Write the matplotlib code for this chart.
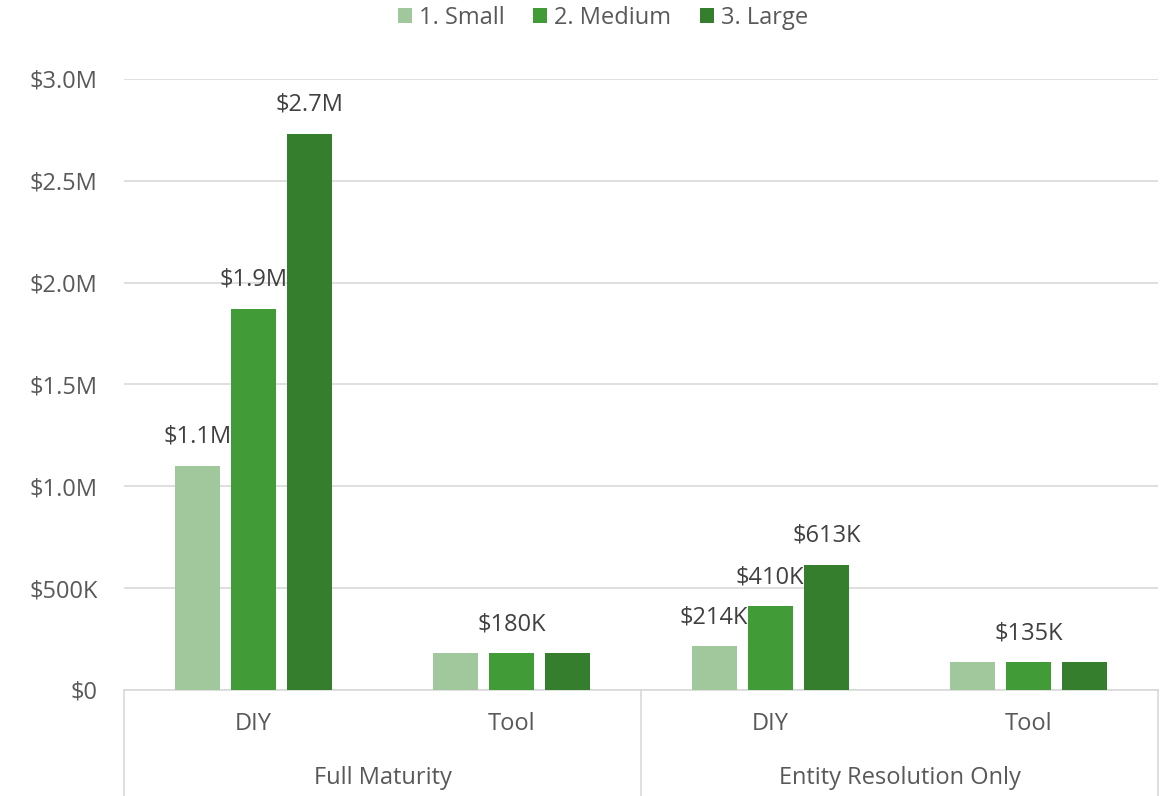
import matplotlib.pyplot as plt
import matplotlib.transforms as mtransforms
import numpy as np

plt.rcParams['font.family'] = ['Open Sans', 'DejaVu Sans']

# data
groups = ['Full Maturity', 'Entity Resolution Only']
approaches = ['DIY', 'Tool', 'DIY', 'Tool']
sizes = ['1. Small', '2. Medium', '3. Large']
small = [1.10e6, 180e3, 214e3, 135e3]
medium = [1.87e6, 180e3, 410e3, 135e3]
large = [2.73e6, 180e3, 613e3, 135e3]
small_labels = ['$1.1M', '', '$214K', '']
medium_labels = ['$1.9M', '$180K', '$410K', '$135K']
large_labels = ['$2.7M', '', '$613K', '']
yticks = [0, 0.5e6, 1.0e6, 1.5e6, 2.0e6, 2.5e6, 3.0e6]
ytick_labels = ['$0', '$500K', '$1.0M', '$1.5M', '$2.0M', '$2.5M', '$3.0M']

colors = ['#A1C79C', '#419C38', '#357E2D']
text_color = '#595959'
grid_color = '#D9D9D9'
fs = 17

fig = plt.figure(figsize=(11.66, 7.96), dpi=100)
ax = fig.add_axes([0.1063, 0.1332, 0.8868, 0.7676])

x = np.arange(len(approaches))
bar_width = 0.174
step = 0.217

series = [(small, small_labels), (medium, medium_labels), (large, large_labels)]
for i, (vals, labs) in enumerate(series):
    pos = x + (i - 1) * step
    ax.bar(pos, vals, bar_width, color=colors[i], label=sizes[i], zorder=3)
    for px, v, lab in zip(pos, vals, labs):
        if lab:
            ax.annotate(lab, (px, v), xytext=(0, 21), textcoords='offset points',
                        ha='center', va='center', fontsize=fs, color='#404040')

ax.set_xlim(-0.5, 3.5)
ax.set_ylim(0, 3.0e6)
ax.set_yticks(yticks)
ax.set_yticklabels(ytick_labels)
ax.tick_params(axis='y', length=0, pad=19, labelsize=fs, labelcolor=text_color)
ax.set_xticks([])
ax.yaxis.grid(True, color=grid_color, linewidth=1.2, zorder=0)
for s in ['top', 'right', 'left']:
    ax.spines[s].set_visible(False)
ax.spines['bottom'].set_color(grid_color)
ax.spines['bottom'].set_linewidth(1.2)

# multi-level category axis
trans = mtransforms.blended_transform_factory(ax.transData, ax.transAxes)
for xi, name in zip(x, approaches):
    ax.text(xi, -0.0556, name, transform=trans, ha='center', va='center',
            fontsize=fs, color=text_color)
for gi, name in enumerate(groups):
    ax.text(gi * 2 + 0.5, -0.144, name, transform=trans, ha='center', va='center',
            fontsize=fs, color=text_color)
for xv in [-0.5, 1.5, 3.5]:
    ax.plot([xv, xv], [0, -0.18], transform=trans, color=grid_color,
            linewidth=1.2, clip_on=False)

fig.legend(loc='center', bbox_to_anchor=(603 / 1166, 1 - 18 / 796), ncol=3,
           frameon=False, fontsize=fs, labelcolor=text_color,
           handlelength=0.6, handleheight=0.6, handletextpad=0.3, columnspacing=1.2)

fig.savefig('out.png', dpi=100)
